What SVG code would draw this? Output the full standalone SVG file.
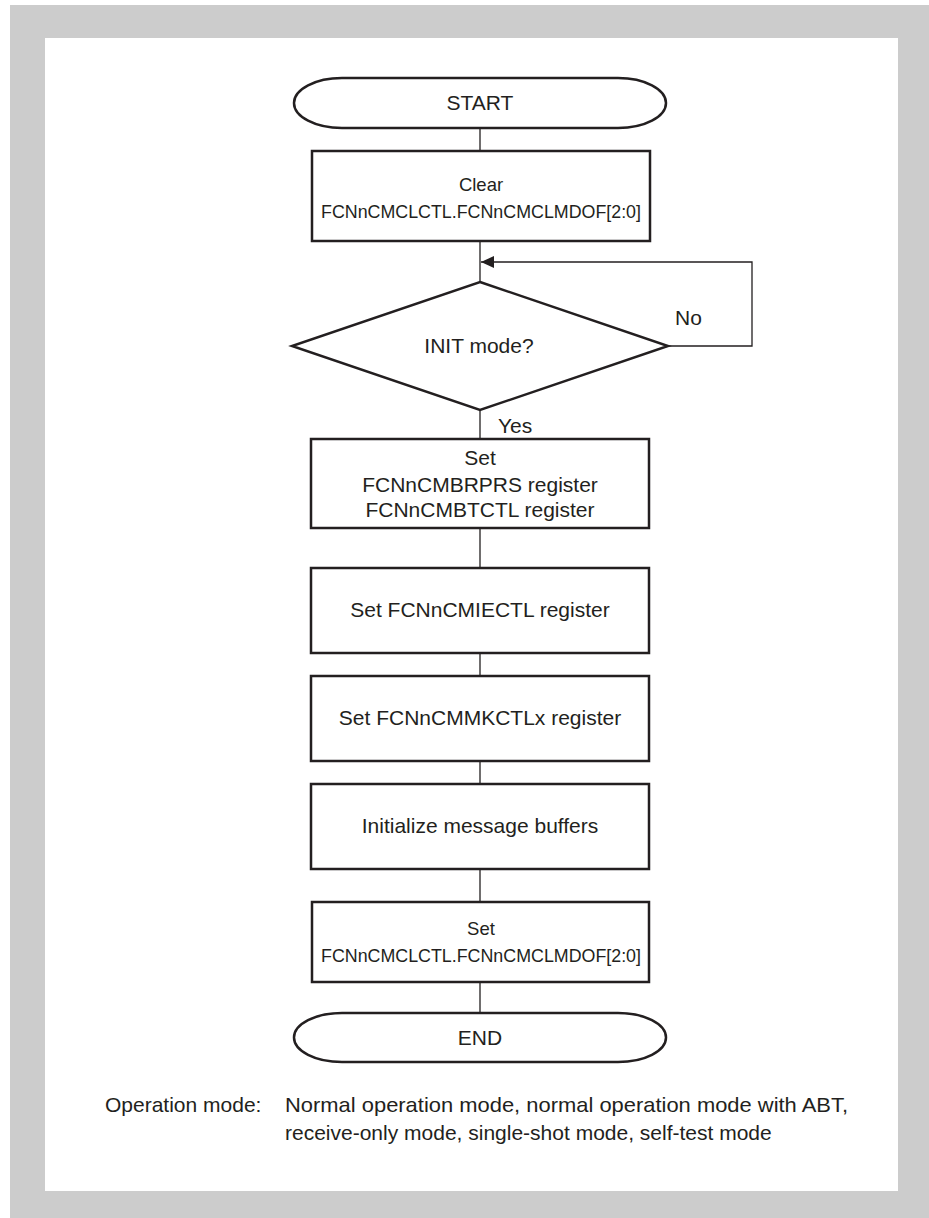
<svg xmlns="http://www.w3.org/2000/svg" width="929" height="1218" viewBox="0 0 929 1218">
  <style>
    .shape { fill: #ffffff; stroke: #231f20; stroke-width: 2.5; }
    .link { fill: none; stroke: #231f20; stroke-width: 1.3; }
    .t { font-family: "Liberation Sans", Arial, Helvetica, sans-serif; font-size: 21px; fill: #231f20; }
    .c { text-anchor: middle; }
    .s { font-size: 18.5px; }
  </style>
  <defs>
    <marker id="arrow" viewBox="0 0 13 12" refX="13" refY="6" markerWidth="13" markerHeight="12" markerUnits="userSpaceOnUse" orient="auto">
      <path d="M0,0 L13,6 L0,12 Z" fill="#231f20"/>
    </marker>
  </defs>

  <!-- frame -->
  <rect x="10" y="5" width="919" height="1213" fill="#cccccc"/>
  <rect x="45" y="38" width="853" height="1153" fill="#ffffff"/>

  <!-- connectors -->
  <g id="connectors">
    <line class="link" x1="480" y1="128" x2="480" y2="151"/>
    <line class="link" x1="480" y1="241" x2="480" y2="282"/>
    <polyline class="link" points="668,346 752,346 752,262 481,262" marker-end="url(#arrow)"/>
    <line class="link" x1="480" y1="410" x2="480" y2="439"/>
    <line class="link" x1="480" y1="528" x2="480" y2="568"/>
    <line class="link" x1="480" y1="653" x2="480" y2="676"/>
    <line class="link" x1="480" y1="761" x2="480" y2="784"/>
    <line class="link" x1="480" y1="869" x2="480" y2="902"/>
    <line class="link" x1="480" y1="982" x2="480" y2="1013"/>
  </g>

  <g id="start">
    <path class="shape" d="M342,78 H618 A48,25 0 0 1 618,128 H342 A48,25 0 0 1 342,78 Z"/>
    <text class="t c" x="480" y="110">START</text>
  </g>

  <g id="clear-mdof">
    <rect class="shape" x="312" y="151" width="338" height="90"/>
    <text class="t s c" x="481" y="191">Clear</text>
    <text class="t s" x="321" y="218" textLength="320" lengthAdjust="spacingAndGlyphs">FCNnCMCLCTL.FCNnCMCLMDOF[2:0]</text>
  </g>

  <g id="init-check">
    <polygon class="shape" points="480,282 668,346 480,410 292,346"/>
    <text class="t c" x="479" y="353">INIT mode?</text>
    <text class="t" x="675" y="325">No</text>
    <text class="t" x="498" y="433">Yes</text>
  </g>

  <g id="set-brprs-btctl">
    <rect class="shape" x="311" y="439" width="338" height="89"/>
    <text class="t c" x="480" y="465">Set</text>
    <text class="t c" x="480" y="492">FCNnCMBRPRS register</text>
    <text class="t c" x="480" y="517">FCNnCMBTCTL register</text>
  </g>

  <g id="set-iectl">
    <rect class="shape" x="311" y="568" width="338" height="85"/>
    <text class="t c" x="480" y="617">Set FCNnCMIECTL register</text>
  </g>

  <g id="set-mkctl">
    <rect class="shape" x="311" y="676" width="338" height="85"/>
    <text class="t c" x="480" y="725">Set FCNnCMMKCTLx register</text>
  </g>

  <g id="init-buffers">
    <rect class="shape" x="311" y="784" width="338" height="85"/>
    <text class="t c" x="480" y="833">Initialize message buffers</text>
  </g>

  <g id="set-mdof">
    <rect class="shape" x="312" y="902" width="337" height="80"/>
    <text class="t s c" x="481" y="935">Set</text>
    <text class="t s" x="321" y="962" textLength="320" lengthAdjust="spacingAndGlyphs">FCNnCMCLCTL.FCNnCMCLMDOF[2:0]</text>
  </g>

  <g id="end">
    <path class="shape" d="M342,1013 H618 A48,24.5 0 0 1 618,1062 H342 A48,24.5 0 0 1 342,1013 Z"/>
    <text class="t c" x="480" y="1045">END</text>
  </g>

  <!-- footnote -->
  <text class="t" x="105" y="1112">Operation mode:</text>
  <text class="t" x="285" y="1112" textLength="563" lengthAdjust="spacingAndGlyphs">Normal operation mode, normal operation mode with ABT,</text>
  <text class="t" x="285" y="1140">receive-only mode, single-shot mode, self-test mode</text>
</svg>
